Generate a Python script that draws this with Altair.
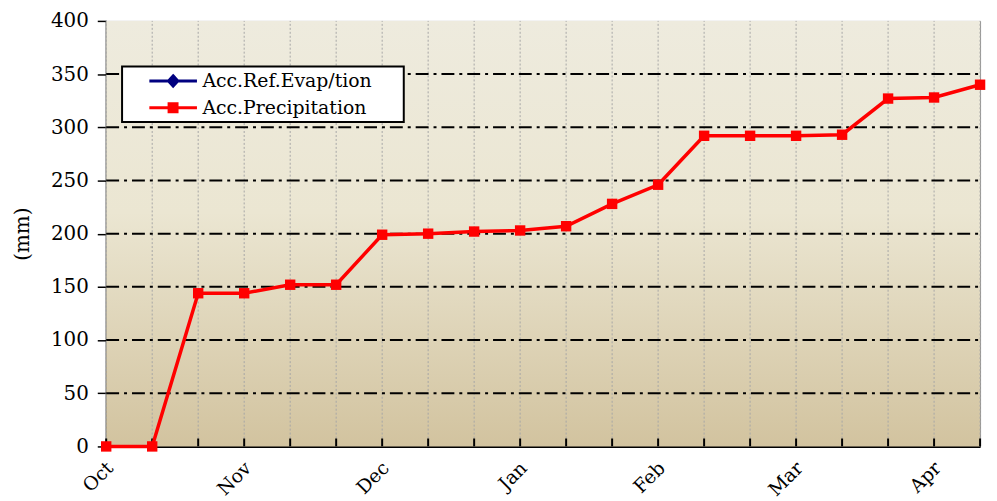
import altair as alt
import pandas as pd

# ---- data ----
months = ["Oct", "Nov", "Dec", "Jan", "Feb", "Mar", "Apr"]
dekad_index = list(range(20))
precip = [0, 0, 144, 144, 152, 152, 199, 200, 202, 203, 207, 228, 246,
          292, 292, 292, 293, 327, 328, 340]
evap_index = [0]
evap = [0]
y_ticks = [0, 50, 100, 150, 200, 250, 300, 350, 400]
grid_vals = [50, 100, 150, 200, 250, 300, 350]
s_evap = "Acc.Ref.Evap/tion"
s_prec = "Acc.Precipitation"
series_colors = ["#000080", "#ff0000"]

FONT = "DejaVu Serif"
W, H = 881, 429

prec_df = pd.DataFrame({"idx": dekad_index, "value": precip, "series": s_prec})
evap_df = pd.DataFrame({"idx": evap_index, "value": evap, "series": s_evap})
pts_df = pd.concat([evap_df, prec_df], ignore_index=True)
grid_df = pd.DataFrame({"value": grid_vals})
idx_df = pd.DataFrame({"idx": dekad_index})

month_arr = "[" + ",".join("'%s'" % m for m in months) + "]"

X = alt.X("idx:Q",
          scale=alt.Scale(domain=[0, 19], nice=False, zero=False),
          axis=alt.Axis(values=[i * 3 for i in range(len(months))],
                        labelExpr=month_arr + "[round(datum.value/3)]",
                        ticks=False, grid=False, labelAngle=315,
                        labelFont=FONT, labelFontSize=19, labelColor="black",
                        labelPadding=12, labelOffset=-3, labelFlush=False,
                        labelOverlap=False, labelBound=False,
                        domainColor="black", domainWidth=2, title=None))
Y = alt.Y("value:Q",
          scale=alt.Scale(domain=[0, 400], nice=False),
          axis=alt.Axis(values=y_ticks, grid=False, tickSize=9, tickWidth=1.5,
                        tickColor="black", labelFont=FONT, labelFontSize=20,
                        labelColor="black", labelPadding=9,
                        domainColor="black", domainWidth=2,
                        title="(mm)", titleFont=FONT, titleFontSize=20,
                        titleFontWeight="normal", titleColor="black",
                        titlePadding=18))

gradient = alt.LinearGradient(
    gradient="linear",
    stops=[alt.GradientStop(offset=0, color="#eeebde"),
           alt.GradientStop(offset=0.45, color="#ebe6d2"),
           alt.GradientStop(offset=1, color="#d2c39f")],
    x1=0, x2=0, y1=0, y2=1)

bg = alt.Chart(pd.DataFrame({"a": [0]})).mark_rect(color=gradient).encode(
    x=alt.datum(0), x2=alt.datum(19), y=alt.datum(0), y2=alt.datum(400))

vgrid = alt.Chart(idx_df).mark_rule(color="#a6a6a6", strokeWidth=1,
                                    strokeDash=[2, 2]).encode(
    x=X, y=alt.datum(0), y2=alt.datum(400))

hgrid = alt.Chart(grid_df).mark_rule(color="black", strokeWidth=2,
                                     strokeDash=[13, 5, 3, 5]).encode(
    y=Y, x=alt.datum(0), x2=alt.datum(19))

xticks = alt.Chart(idx_df).mark_rule(color="black", strokeWidth=2).encode(
    x=X, y=alt.value(H), y2=alt.value(H - 8))

line = alt.Chart(prec_df).mark_line(color="#ff0000", strokeWidth=3.5).encode(
    x=X, y=Y)

evap_pts = alt.Chart(evap_df).mark_point(
    filled=True, shape="diamond", size=70, color="#000080", opacity=1
).encode(x=X, y=Y)
prec_pts = alt.Chart(prec_df).mark_point(
    filled=True, shape="square", size=110, color="#ff0000", opacity=1
).encode(x=X, y=Y)

# legend symbols: a line with the series marker in it
p_evap = "M-0.315,0L1,0M0.342,-0.14L0.47,0L0.342,0.14L0.214,0Z"
p_prec = "M-0.315,0L1,0M0.23,-0.11L0.45,-0.11L0.45,0.11L0.23,0.11Z"

# trailing no-break spaces (kept by a final zero-width char) widen the box
label_expr = "datum.label + '" + "\u00a0" * 5 + "\u200b'"


def make_legend():
    return alt.Legend(
        title=None, orient="none", legendX=16, legendY=46,
        fillColor="white", strokeColor="black", padding=1,
        clipHeight=27, rowPadding=0, labelOffset=4, labelLimit=400,
        labelFont=FONT, labelFontSize=19, labelColor="black",
        labelExpr=label_expr,
        symbolSize=5329, symbolStrokeWidth=3, symbolOpacity=1)


dom = [s_evap, s_prec]
legend_layer = alt.Chart(pts_df).mark_point(filled=True, opacity=0).encode(
    x=X, y=Y,
    fill=alt.Fill("series:N", scale=alt.Scale(domain=dom, range=series_colors),
                  legend=make_legend()),
    stroke=alt.Stroke("series:N",
                      scale=alt.Scale(domain=dom, range=series_colors),
                      legend=make_legend()),
    shape=alt.Shape("series:N",
                    scale=alt.Scale(domain=dom, range=[p_evap, p_prec]),
                    legend=make_legend()))

chart = alt.layer(bg, vgrid, hgrid, xticks, line, evap_pts, prec_pts,
                  legend_layer).properties(
    width=W, height=H,
    autosize=alt.AutoSizeParams(type="none"),
    padding={"left": 99, "top": 11, "right": 9, "bottom": 53},
).configure_view(stroke="#8c8c8c", strokeWidth=1).configure_legend(
    strokeWidth=2)

chart.save("out.html", embed_options={"renderer": "svg", "actions": False})
